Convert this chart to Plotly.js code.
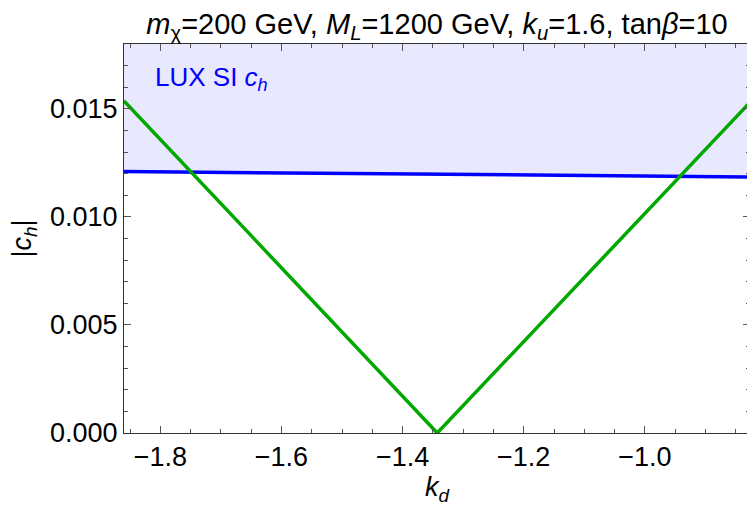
<!DOCTYPE html>
<html>
<head>
<meta charset="utf-8">
<script src="https://cdn.plot.ly/plotly-3.0.1.min.js"></script>
<style>
html,body{margin:0;padding:0;overflow:hidden;background:#fff;width:747px;height:506px;}
#chart{width:750px;height:506px;}
</style>
</head>
<body>
<div id="chart"></div>
<script>
// k_d values and |c_h|
const kd = [-1.86, -1.3428, -0.8264];
const chAbs = [0.01537, 0.0, 0.0153];
// LUX SI limit on c_h
const kdLux = [-1.86, -0.8264];
const luxLimit = [0.0121, 0.01185];
const luxTop = [0.018, 0.018];

const xTickVals = [-1.8, -1.6, -1.4, -1.2, -1.0];
const yTickVals = [0.000, 0.005, 0.010, 0.015];

const font = 'Liberation Sans, Arial, sans-serif';

const traces = [
  {x: kdLux, y: luxTop, mode: 'lines', line: {width: 0, color: 'rgba(0,0,0,0)'}, hoverinfo: 'skip', showlegend: false},
  {x: kdLux, y: luxLimit, mode: 'lines', fill: 'tonexty', fillcolor: 'rgba(0,0,255,0.09)',
   line: {color: '#0000ff', width: 3.5}, showlegend: false, name: 'LUX SI'},
  {x: kd, y: chAbs, mode: 'lines', line: {color: '#00a800', width: 3.5}, showlegend: false, name: '|c_h|'}
];

const axisCommon = {
  showgrid: false, zeroline: false, showline: true, linecolor: '#333', linewidth: 1,
  ticks: 'inside', ticklen: 7, tickcolor: '#555', tickwidth: 1, mirror: 'allticks',
  tickfont: {family: font, size: 27, color: '#000'}
};

const layout = {
  width: 750, height: 506,
  margin: {l: 124, r: 0, t: 44, b: 73},
  paper_bgcolor: '#fff', plot_bgcolor: '#fff',
  title: {
    text: '<i>m</i><sub>χ</sub>=200 GeV, <i>M</i><sub><i>L</i></sub>=1200 GeV, <i>k</i><sub><i>u</i></sub>=1.6, tan<i>β</i>=10',
    font: {family: font, size: 29, color: '#000'},
    x: 0.5, xref: 'paper', xanchor: 'center', y: 1 - 24/506, yref: 'container', yanchor: 'middle'
  },
  xaxis: Object.assign({}, axisCommon, {
    range: [-1.86, -0.8264], tickvals: xTickVals, tickformat: '.1f',
    minor: {dtick: 0.05, ticks: 'inside', ticklen: 4, tickcolor: '#555', tickwidth: 1},
    title: {text: '<i>k</i><sub><i>d</i></sub>', font: {family: font, size: 27, color: '#000'}, standoff: 25}
  }),
  yaxis: Object.assign({}, axisCommon, {
    range: [0, 0.018], tickvals: yTickVals, tickformat: '.3f',
    minor: {dtick: 0.001, ticks: 'inside', ticklen: 4, tickcolor: '#555', tickwidth: 1},
    title: {text: '|<i>c</i><sub><i>h</i></sub>|', font: {family: font, size: 27, color: '#000'}, standoff: 10}
  }),
  annotations: [{
    text: 'LUX SI <i>c</i><sub><i>h</i></sub>', xref: 'paper', yref: 'paper',
    x: (153-124)/626, y: (433-78)/389, xanchor: 'left', yanchor: 'middle', showarrow: false,
    font: {family: font, size: 26, color: '#0000ff'}
  }]
};

Plotly.newPlot('chart', traces, layout, {displayModeBar: false, staticPlot: true});
</script>
</body>
</html>
